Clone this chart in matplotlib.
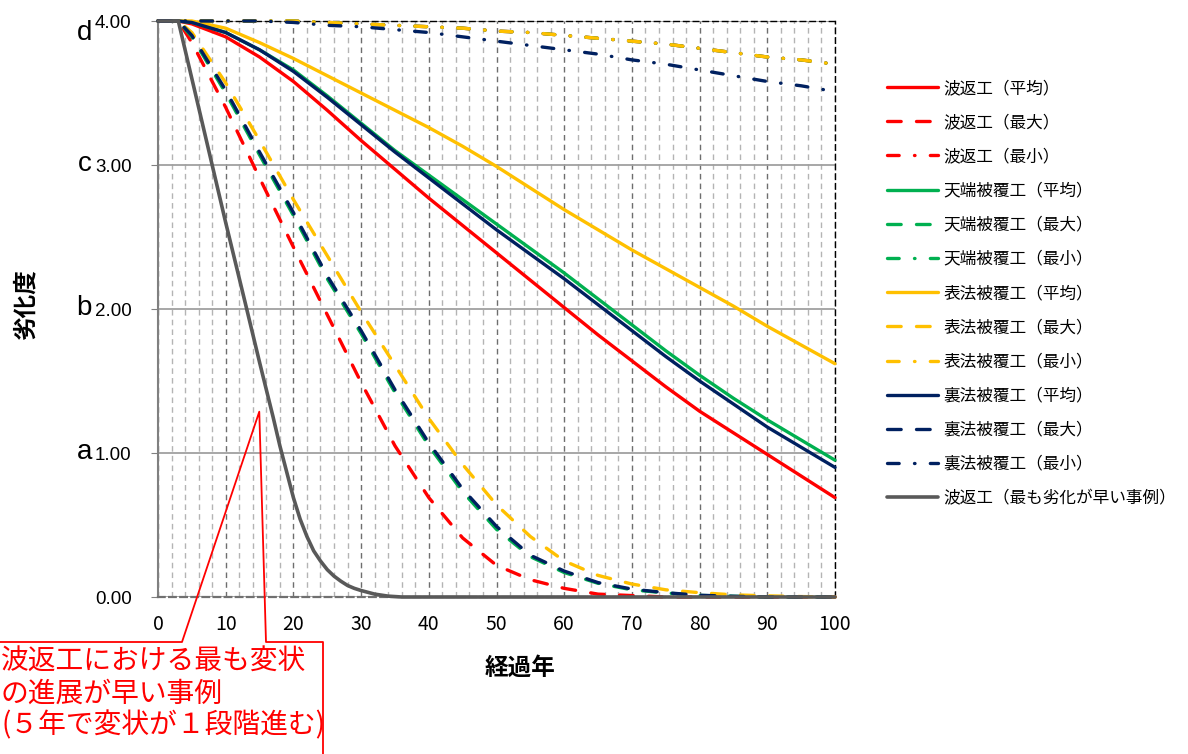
import matplotlib
matplotlib.use("Agg")
import matplotlib.pyplot as plt
from matplotlib.lines import Line2D
from matplotlib.ticker import MultipleLocator

plt.rcParams['font.family'] = ['Noto Sans CJK JP', 'DejaVu Sans']

# ---------------- data ----------------
years = [0, 3, 5, 10, 15, 20, 25, 30, 35, 40, 45, 50, 55, 60, 65, 70, 75, 80, 85, 90, 95, 100]

red_avg = [4.00, 4.00, 3.98, 3.89, 3.75, 3.58, 3.38, 3.17, 2.97, 2.77, 2.58, 2.39, 2.20, 2.01, 1.82, 1.64, 1.46, 1.29, 1.14, 0.99, 0.84, 0.69]
red_max = [4.00, 4.00, 3.85, 3.40, 2.91, 2.43, 1.96, 1.49, 1.05, 0.69, 0.41, 0.22, 0.12, 0.06, 0.02, 0.01, 0.00, 0.00, 0.00, 0.00, 0.00, 0.00]
red_min = [4.00, 4.00, 4.00, 4.00, 4.00, 4.00, 3.99, 3.98, 3.97, 3.96, 3.95, 3.93, 3.92, 3.90, 3.88, 3.86, 3.84, 3.81, 3.78, 3.75, 3.73, 3.70]

green_avg = [4.00, 4.00, 3.99, 3.92, 3.80, 3.66, 3.48, 3.29, 3.10, 2.93, 2.76, 2.59, 2.42, 2.25, 2.07, 1.89, 1.71, 1.54, 1.38, 1.23, 1.09, 0.95]
green_max = [4.00, 4.00, 3.89, 3.50, 3.07, 2.65, 2.21, 1.83, 1.42, 1.05, 0.73, 0.47, 0.28, 0.17, 0.095, 0.05, 0.028, 0.011, 0.005, 0.00, 0.00, 0.00]
green_min = [4.00, 4.00, 4.00, 4.00, 4.00, 4.00, 3.99, 3.98, 3.97, 3.96, 3.95, 3.93, 3.92, 3.90, 3.88, 3.86, 3.84, 3.81, 3.78, 3.75, 3.73, 3.70]

yellow_avg = [4.00, 4.00, 4.00, 3.95, 3.85, 3.74, 3.62, 3.50, 3.38, 3.26, 3.13, 2.99, 2.84, 2.69, 2.55, 2.41, 2.28, 2.15, 2.02, 1.88, 1.75, 1.62]
yellow_max = [4.00, 4.00, 3.92, 3.57, 3.17, 2.76, 2.37, 1.98, 1.61, 1.24, 0.92, 0.64, 0.42, 0.25, 0.15, 0.09, 0.05, 0.03, 0.015, 0.008, 0.003, 0.00]
yellow_min = [4.00, 4.00, 4.00, 4.00, 4.00, 4.00, 3.99, 3.98, 3.97, 3.96, 3.95, 3.93, 3.92, 3.90, 3.88, 3.86, 3.84, 3.81, 3.78, 3.75, 3.73, 3.70]

navy_avg = [4.00, 4.00, 3.99, 3.92, 3.80, 3.65, 3.47, 3.28, 3.09, 2.91, 2.73, 2.55, 2.38, 2.21, 2.03, 1.85, 1.67, 1.50, 1.34, 1.18, 1.04, 0.90]
navy_max = [4.00, 4.00, 3.90, 3.52, 3.09, 2.67, 2.23, 1.85, 1.44, 1.07, 0.75, 0.49, 0.29, 0.18, 0.10, 0.055, 0.03, 0.012, 0.005, 0.00, 0.00, 0.00]
navy_min = [4.00, 4.00, 4.00, 4.00, 4.00, 3.99, 3.97, 3.96, 3.94, 3.92, 3.89, 3.86, 3.83, 3.80, 3.77, 3.73, 3.70, 3.66, 3.62, 3.58, 3.55, 3.51]

gray_years = [0, 3, 5, 8, 10, 13, 15, 16, 17, 18, 19, 20, 21, 22, 23, 24, 25, 26, 27, 28, 29, 30, 32, 34, 36, 100]
gray_fast = [4.00, 4.00, 3.60, 3.00, 2.60, 2.02, 1.63, 1.44, 1.25, 1.05, 0.87, 0.69, 0.54, 0.42, 0.32, 0.25, 0.19, 0.145, 0.11, 0.08, 0.06, 0.045, 0.02, 0.006, 0.00, 0.00]

labels = ['波返工（平均）', '波返工（最大）', '波返工（最小）',
          '天端被覆工（平均）', '天端被覆工（最大）', '天端被覆工（最小）',
          '表法被覆工（平均）', '表法被覆工（最大）', '表法被覆工（最小）',
          '裏法被覆工（平均）', '裏法被覆工（最大）', '裏法被覆工（最小）',
          '波返工（最も劣化が早い事例）']

x_ticks = [0, 10, 20, 30, 40, 50, 60, 70, 80, 90, 100]
y_ticks = [0, 1, 2, 3, 4]
y_ticklabels = ['0.00', '1.00', '2.00', '3.00', '4.00']
grade_letters = ['a', 'b', 'c', 'd']

# ---------------- figure ----------------
W, H = 1188, 754
fig = plt.figure(figsize=(W / 100, H / 100), dpi=100)
ax = fig.add_axes([158 / W, (H - 597) / H, 677 / W, 576 / H])
ax.set_xlim(0, 100)
ax.set_ylim(0, 4)

RED, GREEN, YELLOW, NAVY, GRAY = '#FF0000', '#00B050', '#FFC000', '#002060', '#595959'
LW = 2.4
DASH = (0, (4.1, 4.6))
DASHDOT = (0, (3.5, 4.6, 0.15, 4.6))

series = [
    (red_avg, RED, '-'), (red_max, RED, DASH), (red_min, RED, DASHDOT),
    (green_avg, GREEN, '-'), (green_max, GREEN, DASH), (green_min, GREEN, DASHDOT),
    (yellow_avg, YELLOW, '-'), (yellow_max, YELLOW, DASH), (yellow_min, YELLOW, DASHDOT),
    (navy_avg, NAVY, '-'), (navy_max, NAVY, DASH), (navy_min, NAVY, DASHDOT),
]
handles = []
for vals, col, ls in series:
    ln, = ax.plot(years, vals, color=col, linestyle=ls, lw=LW, zorder=3,
                  dash_capstyle='round', solid_capstyle='round',
                  solid_joinstyle='round', clip_on=False)
    handles.append(ln)
ln, = ax.plot(gray_years, gray_fast, color=GRAY, lw=2.6, zorder=4,
              solid_capstyle='round', solid_joinstyle='round', clip_on=False)
handles.append(ln)

# grid
ax.set_xticks(x_ticks)
ax.xaxis.set_minor_locator(MultipleLocator(2))
ax.set_yticks(y_ticks)
ax.grid(which='minor', axis='x', color='#B4B4B4', linestyle=(0, (4, 3)), lw=1.0, zorder=0)
ax.grid(which='major', axis='x', color='#6E6E6E', linestyle=(0, (4, 3)), lw=1.0, zorder=0)
ax.grid(which='major', axis='y', color='#A0A0A0', linestyle='-', lw=1.3, zorder=0)
ax.set_axisbelow(True)

for s in ['top', 'right']:
    ax.spines[s].set_color('black')
    ax.spines[s].set_linestyle((0, (4, 3)))
    ax.spines[s].set_linewidth(1.0)
ax.spines['left'].set_color('#808080')
ax.spines['left'].set_linewidth(1.5)
ax.spines['bottom'].set_color('#707070')
ax.spines['bottom'].set_linestyle((0, (3, 2)))
ax.spines['bottom'].set_linewidth(1.6)

ax.tick_params(axis='x', which='both', length=0, pad=12, labelsize=14)
ax.tick_params(axis='y', which='major', length=5, color='#808080', pad=14, labelsize=13.5)
ax.set_xticklabels([str(v) for v in x_ticks])
ax.set_yticklabels(y_ticklabels, fontfamily=['Liberation Sans', 'DejaVu Sans'])

# grade letters
ytr = ax.get_yaxis_transform()
for i, letter in enumerate(grade_letters):
    yv = y_ticks[i + 1] - 0.045 if letter != 'd' else 3.87
    ax.text(-0.0975, yv, letter, transform=ytr, ha='right', va='baseline',
            fontsize=20, fontfamily=['Liberation Sans', 'DejaVu Sans'])

# axis titles
fig.text(26 / W, 1 - 305 / H, '劣化度', rotation=90, ha='center', va='center',
         fontsize=17, fontweight='bold')
fig.text(520 / W, 1 - 668 / H, '経過年', ha='center', va='center',
         fontsize=17, fontweight='bold')

# legend
ax.legend(handles, labels, loc='upper left', bbox_to_anchor=(887 / W, 1 - 80 / H),
          bbox_transform=fig.transFigure, frameon=False, borderpad=0, borderaxespad=0,
          handlelength=3.05, handletextpad=0.35, labelspacing=1.03, prop={'size': 12})

# callout annotation
fig.canvas.draw()
tip_disp = ax.transData.transform((14.96, 1.287))
tip = fig.transFigure.inverted().transform(tip_disp)
px = lambda x: x / W
py = lambda y: 1 - y / H
cx = [px(-2), px(182), tip[0], px(266), px(323), px(323)]
cy = [py(642), py(642), tip[1], py(642), py(642), py(760)]
fig.add_artist(Line2D(cx, cy, transform=fig.transFigure, color='#FF0000', lw=1.3))

callout_lines = ['波返工における最も変状', 'の進展が早い事例', '(５年で変状が１段階進む)']
for txt, yc in zip(callout_lines, [662, 694, 725]):
    fig.text(px(1), py(yc), txt, ha='left', va='center', fontsize=20, color='#FF0000')

fig.savefig('out.png', dpi=100)
